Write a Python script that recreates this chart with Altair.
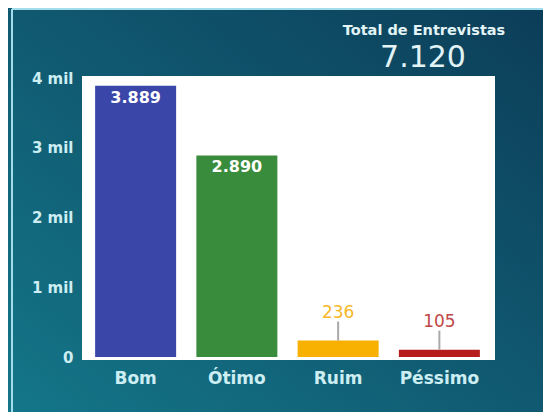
import altair as alt
import pandas as pd

categories = ["Bom", "Ótimo", "Ruim", "Péssimo"]
values = [3889, 2890, 236, 105]
bar_colors = ["#3b46a9", "#3a8c3d", "#f8b100", "#b71c1c"]
label_colors = ["#ffffff", "#ffffff", "#f5b827", "#c04747"]
y_ticks = [0, 1000, 2000, 3000, 4000]
header = "Total de Entrevistas"

def fmt(v):
    return f"{v:,}".replace(",", ".")

total = sum(values)

df = pd.DataFrame({
    "cat": categories,
    "val": values,
    "lab": [fmt(v) for v in values],
    "lcol": label_colors,
})
one = pd.DataFrame({"a": [0]})

W, H = 405, 279
PL, PT, PR, PB = 77, 70, 53, 55
BOLD = "DejaVu Sans"
TXT = "#cdeef2"

bg = alt.Chart(one).mark_rect(
    fill=alt.Gradient(
        gradient="linear",
        stops=[alt.GradientStop(color="#147689", offset=0),
               alt.GradientStop(color="#0c3d58", offset=1)],
        x1=0, x2=1, y1=1, y2=0,
    )
).encode(x=alt.value(-PL), x2=alt.value(W + PR), y=alt.value(-PT), y2=alt.value(H + PB))

frame_top = alt.Chart(one).mark_rule(color="#a3dcea", strokeWidth=2).encode(
    x=alt.value(-PL + 4), x2=alt.value(W + PR), y=alt.value(-PT + 1))
frame_left = alt.Chart(one).mark_rule(color="#a3dcea", strokeWidth=2).encode(
    x=alt.value(-PL + 4), y=alt.value(-PT + 1), y2=alt.value(H + PB))

white = alt.Chart(one).mark_rect(fill="white").encode(
    x=alt.value(-3), x2=alt.value(W + 5), y=alt.value(-2), y2=alt.value(H + 3))

xenc = alt.X("cat:N", sort=categories, title=None,
             scale=alt.Scale(paddingInner=0.2, paddingOuter=0.1),
             axis=alt.Axis(labelAngle=0, labelFont=BOLD, labelFontSize=17,
                           labelFontWeight="bold", labelColor=TXT,
                           labelPadding=13, ticks=False, domain=False, zindex=5))
yenc = alt.Y("val:Q", title=None, scale=alt.Scale(domain=[0, 4000], nice=False),
             axis=alt.Axis(values=y_ticks, grid=False, ticks=False, domain=False,
                           labelExpr="datum.value == 0 ? '0' : (datum.value/1000) + ' mil'",
                           labelFont=BOLD, labelFontSize=15, labelFontWeight="bold",
                           labelColor=TXT, labelPadding=12, zindex=5))

base = alt.Chart(df)

bars = base.mark_bar().encode(
    x=xenc, y=yenc,
    color=alt.Color("cat:N", scale=alt.Scale(domain=categories, range=bar_colors), legend=None),
)

inside = base.transform_filter("datum.val >= 1000").mark_text(
    font=BOLD, fontSize=16, fontWeight="bold", dy=12, baseline="middle"
).encode(x=alt.X("cat:N", sort=categories), y="val:Q", text="lab:N",
         color=alt.Color("lcol:N", scale=None))

leader = base.transform_filter("datum.val < 1000").mark_rule(
    color="#a9a9a9", strokeWidth=2, yOffset=-19, y2Offset=0
).encode(x=alt.X("cat:N", sort=categories), y="val:Q", y2="val:Q")

outside = base.transform_filter("datum.val < 1000").mark_text(
    font=BOLD, fontSize=17, dy=-28, baseline="middle"
).encode(x=alt.X("cat:N", sort=categories), y="val:Q", text="lab:N",
         color=alt.Color("lcol:N", scale=None))

t1 = alt.Chart(one).mark_text(
    text=header, font=BOLD, fontSize=14.5, fontWeight="bold", color="#e2f4f6",
    align="center", baseline="middle"
).encode(x=alt.value(424 - 85), y=alt.value(30.5 - 78))

t2 = alt.Chart(one).mark_text(
    text=fmt(total), font=BOLD, fontSize=30, color="#e2f4f6",
    align="center", baseline="middle"
).encode(x=alt.value(423 - 85), y=alt.value(57.5 - 78))

chart = alt.layer(bg, frame_top, frame_left, white, bars, inside, leader, outside, t1, t2).properties(
    width=W, height=H,
    autosize=alt.AutoSizeParams(type="none"),
    padding={"left": PL, "top": PT, "right": PR, "bottom": PB},
    background="#0e5169",
).configure_view(stroke=None)

chart.save("out.html", embed_options={"renderer": "svg", "actions": False})
